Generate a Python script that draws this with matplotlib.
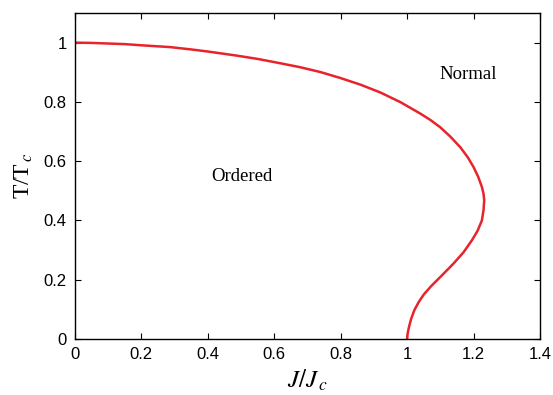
import matplotlib
matplotlib.use('Agg')
import matplotlib.pyplot as plt

# phase boundary, ordered along the curve
j_vals = [0.000, 0.050, 0.100, 0.150, 0.200, 0.286, 0.350, 0.400, 0.488, 0.550,
          0.620, 0.678, 0.738, 0.798, 0.860, 0.919, 0.980, 1.039, 1.070, 1.099,
          1.130, 1.160, 1.182, 1.200, 1.214, 1.225, 1.230, 1.232, 1.230, 1.225,
          1.212, 1.195, 1.170, 1.140, 1.105, 1.072, 1.050, 1.035, 1.022, 1.012,
          1.005, 1.001, 1.000]
t_vals = [1.000, 0.999, 0.997, 0.995, 0.991, 0.985, 0.977, 0.970, 0.956, 0.945,
          0.930, 0.917, 0.901, 0.881, 0.858, 0.832, 0.799, 0.761, 0.739, 0.715,
          0.683, 0.647, 0.614, 0.580, 0.547, 0.513, 0.490, 0.468, 0.435, 0.400,
          0.365, 0.333, 0.293, 0.255, 0.215, 0.178, 0.150, 0.125, 0.098, 0.068,
          0.038, 0.015, 0.000]

x_ticks = [0, 0.2, 0.4, 0.6, 0.8, 1, 1.2, 1.4]
y_ticks = [0, 0.2, 0.4, 0.6, 0.8, 1]

plt.rcParams['mathtext.fontset'] = 'stix'
plt.rcParams['font.family'] = 'Liberation Sans'

fig = plt.figure(figsize=(5.53, 3.95), dpi=100)
ax = fig.add_axes([0.1356, 0.1418, 0.8409, 0.8253])

ax.plot(j_vals, t_vals, color='#e8232b', lw=1.8, solid_capstyle='round', solid_joinstyle='round')

ax.set_xlim(0, 1.4)
ax.set_ylim(0, 1.1)
ax.set_xticks(x_ticks)
ax.set_xticklabels(['0', '0.2', '0.4', '0.6', '0.8', '1', '1.2', '1.4'])
ax.set_yticks(y_ticks)
ax.set_yticklabels(['0', '0.2', '0.4', '0.6', '0.8', '1'])
ax.tick_params(direction='in', top=True, right=True, labelsize=12, length=4, width=0.8, pad=6)
for s in ax.spines.values():
    s.set_linewidth(1.0)

ax.set_xlabel(r'$J/J_{\,c}$', fontsize=18, family='Liberation Serif', labelpad=4)
ax.set_ylabel(r'T/T$_{\,c}$', fontsize=17, family='Liberation Serif', labelpad=6)

ax.text(0.502, 0.549, 'Ordered', fontsize=13.5, family='Liberation Serif', ha='center', va='center')
ax.text(1.184, 0.892, 'Normal', fontsize=13.5, family='Liberation Serif', ha='center', va='center')

fig.savefig('out.png', dpi=100)
